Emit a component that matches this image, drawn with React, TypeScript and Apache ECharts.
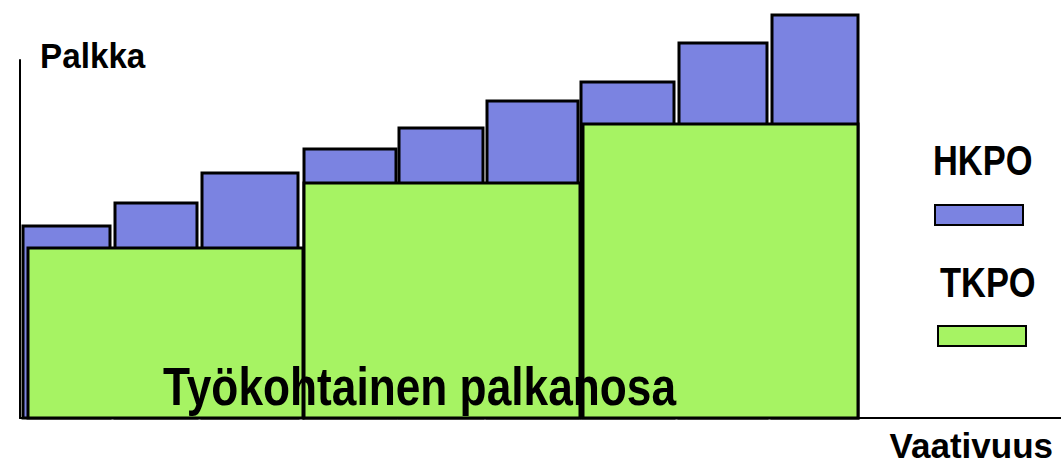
import React, { useEffect, useRef } from "react";
import * as echarts from "echarts";

// Vaativuus (x) and Palkka (y) in chart units
const tkpoStart = [8, 284, 563];
const tkpoEnd = [283, 560, 838];
const tkpoValue = [170, 235, 294];

const hkpoStart = [3, 95, 182, 284, 379, 467, 561, 659, 752];
const hkpoEnd = [90, 177, 278, 376, 463, 558, 654, 747, 838];
const hkpoValue = [192, 215, 245, 269, 290, 317, 336, 375, 403];

const seriesNames = ["HKPO", "TKPO"];
const axisNames = ["Palkka", "Vaativuus"];
const innerLabel = "Työkohtainen palkanosa";

const BLUE = "#7B83E1";
const GREEN = "#A6F363";
const FONT = "'Liberation Sans', Arial, sans-serif";

function rectItem(params: any, api: any) {
  const x0 = api.value(0);
  const x1 = api.value(1);
  const v = api.value(2);
  const p0 = api.coord([x0, v]);
  const p1 = api.coord([x1, 0]);
  return {
    type: "rect",
    shape: { x: p0[0], y: p0[1], width: p1[0] - p0[0], height: p1[1] - p0[1] },
    style: { fill: api.visual("color"), stroke: "#000", lineWidth: 3 },
  };
}

function label(text: string, x: number, y: number, size: number, sx: number, align = "left") {
  return {
    type: "text",
    x,
    y,
    scaleX: sx,
    z: 100,
    style: {
      text,
      fill: "#000",
      font: `bold ${size}px ${FONT}`,
      align,
      verticalAlign: "top",
    },
  };
}

export default function App() {
  const ref = useRef<HTMLDivElement>(null);
  useEffect(() => {
    if (!ref.current) return;
    const chart = echarts.init(ref.current, undefined, { renderer: "svg" });
    const hkpoData = hkpoStart.map((s, i) => [s, hkpoEnd[i], hkpoValue[i]]);
    const tkpoData = tkpoStart.map((s, i) => [s, tkpoEnd[i], tkpoValue[i]]);
    chart.setOption({
      animation: false,
      backgroundColor: "#fff",
      grid: { left: 20, right: 0, top: 60, bottom: 52 },
      xAxis: {
        type: "value",
        min: 0,
        max: 1041,
        axisLine: { show: true, lineStyle: { color: "#000", width: 2 } },
        axisTick: { show: false },
        axisLabel: { show: false },
        splitLine: { show: false },
      },
      yAxis: {
        type: "value",
        min: 0,
        max: 358,
        axisLine: { show: true, lineStyle: { color: "#000", width: 2 } },
        axisTick: { show: false },
        axisLabel: { show: false },
        splitLine: { show: false },
      },
      graphic: [
        label(axisNames[0], 40, 38, 35, 0.95),
        label(axisNames[1], 1053, 428, 35, 1, "right"),
        label(seriesNames[0], 933, 139, 42, 0.82),
        label(seriesNames[1], 940, 261, 42, 0.82),
        label(innerLabel, 163, 360, 53, 0.835),
      ],
      legend: [
        {
          data: [seriesNames[0]], left: 929, top: 199, itemWidth: 88, itemHeight: 20, icon: "rect",
          formatter: () => "", selectedMode: false,
          itemStyle: { borderColor: "#000", borderWidth: 2 },
        },
        {
          data: [seriesNames[1]], left: 932, top: 320, itemWidth: 88, itemHeight: 20, icon: "rect",
          formatter: () => "", selectedMode: false,
          itemStyle: { borderColor: "#000", borderWidth: 2 },
        },
      ],
      series: [
        {
          name: seriesNames[0], type: "custom", renderItem: rectItem, data: hkpoData, clip: false,
          itemStyle: { color: BLUE }, encode: { x: [0, 1], y: 2 }, z: 2,
        },
        {
          name: seriesNames[1], type: "custom", renderItem: rectItem, data: tkpoData, clip: false,
          itemStyle: { color: GREEN }, encode: { x: [0, 1], y: 2 }, z: 3,
        },
      ],
    });
    return () => chart.dispose();
  }, []);
  return <div ref={ref} style={{ position: "absolute", left: 0, top: 0, width: 1061, height: 470 }} />;
}
